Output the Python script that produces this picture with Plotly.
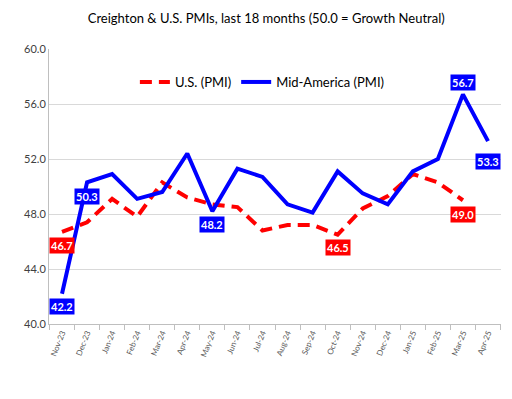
import plotly.graph_objects as go

months = ["Nov-23", "Dec-23", "Jan-24", "Feb-24", "Mar-24", "Apr-24", "May-24", "Jun-24",
          "Jul-24", "Aug-24", "Sep-24", "Oct-24", "Nov-24", "Dec-24", "Jan-25", "Feb-25",
          "Mar-25", "Apr-25"]
us_pmi = [46.7, 47.4, 49.1, 47.8, 50.3, 49.2, 48.7, 48.5, 46.8, 47.2, 47.2, 46.5, 48.4,
          49.3, 50.9, 50.3, 49.0, None]
mid_america = [42.2, 50.3, 50.9, 49.1, 49.6, 52.4, 48.2, 51.3, 50.7, 48.7, 48.1, 51.1,
               49.5, 48.7, 51.1, 52.0, 56.7, 53.3]

# labelled points: (index, vertical shift in px)
us_labels = [(0, -14), (11, -13), (16, -14)]
ma_labels = [(0, -13), (1, -14), (6, -13), (16, 12), (17, -20)]

FONT = "Lato, Liberation Sans, sans-serif"
RED = "#ff0000"
BLUE = "#0000ff"

fig = go.Figure()
fig.add_trace(go.Scatter(x=months, y=us_pmi, name="U.S. (PMI)", mode="lines",
                         line=dict(color=RED, width=4, dash="12px,7px")))
fig.add_trace(go.Scatter(x=months, y=mid_america, name="Mid-America (PMI)", mode="lines",
                         line=dict(color=BLUE, width=4)))

for i, sh in us_labels:
    fig.add_annotation(x=months[i], y=us_pmi[i], xref="x", yref="y", text=f"<b>{us_pmi[i]:.1f}</b>",
                       showarrow=False, yshift=sh, bgcolor=RED, borderpad=1,
                       font=dict(family=FONT, size=11, color="white"))
for i, sh in ma_labels:
    fig.add_annotation(x=months[i], y=mid_america[i], xref="x", yref="y",
                       text=f"<b>{mid_america[i]:.1f}</b>",
                       showarrow=False, yshift=sh, bgcolor=BLUE, borderpad=1,
                       font=dict(family=FONT, size=11, color="white"))

fig.update_layout(
    width=512, height=399,
    margin=dict(l=49, r=11, t=49, b=75),
    paper_bgcolor="white", plot_bgcolor="white",
    font=dict(family=FONT, color="#000000"),
    title=dict(text="Creighton & U.S. PMIs, last 18 months (50.0 = Growth Neutral)",
               x=0.52, xanchor="center", y=0.955, yanchor="middle",
               font=dict(family=FONT, size=13, color="black")),
    showlegend=True,
    legend=dict(orientation="h", x=0.19, xanchor="left", y=0.88, yanchor="middle",
                bgcolor="rgba(0,0,0,0)", font=dict(family=FONT, size=13, color="black"),
                itemwidth=30, tracegroupgap=0),
)
fig.update_xaxes(type="category", showgrid=False, showline=True, linecolor="#bfbfbf",
                 linewidth=1, ticks="outside", tickson="boundaries", ticklen=5,
                 tickcolor="#bfbfbf", tickangle=-68,
                 tickfont=dict(family=FONT, size=8, color="#595959"))
fig.update_yaxes(range=[40, 60], dtick=4, tickformat=".1f", showgrid=True,
                 gridcolor="#d9d9d9", gridwidth=1, showline=True, linecolor="#bfbfbf",
                 zeroline=False, ticks="", tickfont=dict(family=FONT, size=11, color="#404040"))

fig.write_html("out.html", config={"displayModeBar": False},
               post_script="document.body.style.margin='0';document.body.style.overflow='hidden';")
